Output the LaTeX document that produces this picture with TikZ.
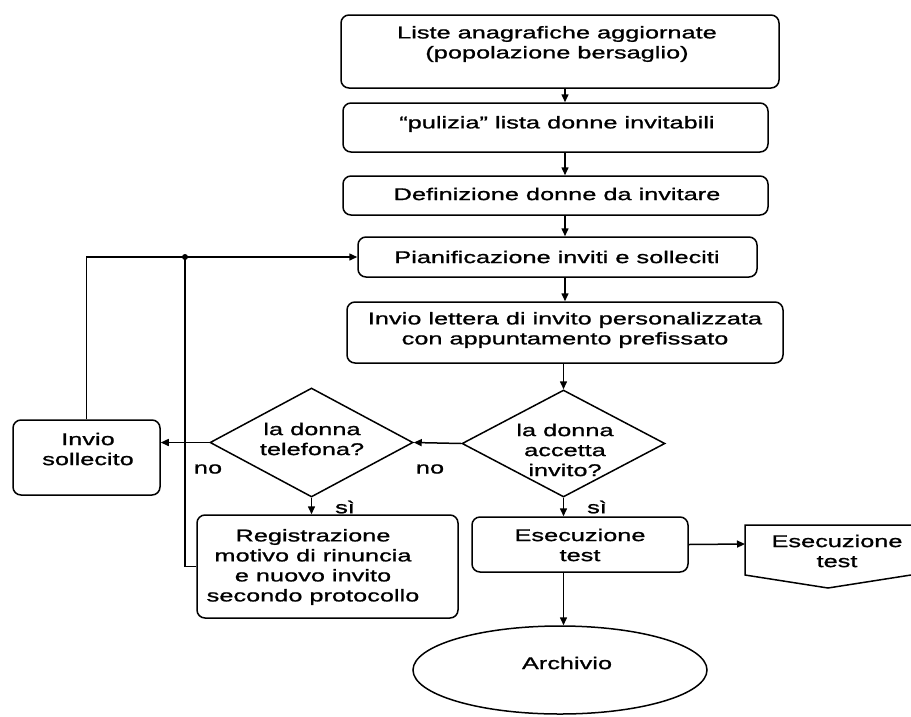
\documentclass[tikz,border=0pt]{standalone}
\usepackage{fontspec}
\setmainfont{Liberation Sans}[FakeStretch=1.49,FakeBold=1.1]
\usetikzlibrary{shapes.geometric,arrows.meta}
\begin{document}
\begin{tikzpicture}[x=1pt,y=-1pt, line width=1.5pt,
  box/.style={draw, rounded corners=8pt, inner sep=0pt},
  txt/.style={align=center, inner sep=0pt, font=\fontsize{17}{20}\selectfont},
  arr/.style={-{Triangle[length=8pt,width=7pt]}},
  dia/.style={draw, diamond, inner sep=0pt}]
\useasboundingbox (0,0) rectangle (911,716);
\clip (0,0) rectangle (911,716);

% boxes
\node[box, minimum width=438pt, minimum height=73pt] (b1) at (560,51.5) {};
\node[txt] (b1t) at (557,44) {Liste anagrafiche aggiornate\\(popolazione bersaglio)};
\node[box, minimum width=425pt, minimum height=49pt] (b2) at (555.5,127.5) {};
\node[txt] (b2t) at (557,124) {“pulizia” lista donne invitabili};
\node[box, minimum width=425pt, minimum height=39pt] (b3) at (555.5,195.5) {};
\node[txt] (b3t) at (557,194) {Definizione donne da invitare};
\node[box, minimum width=399pt, minimum height=40pt] (b4) at (557.5,257) {};
\node[txt] (b4t) at (557,257) {Pianificazione inviti e solleciti};
\node[box, minimum width=436pt, minimum height=61pt] (b5) at (565,332.5) {};
\node[txt] (b5t) at (565,330) {Invio lettera di invito personalizzata\\con appuntamento prefissato};

% decisions
\node[dia, minimum width=203pt, minimum height=109pt] (dT) at (311.5,442.5) {};
\node[txt] (dTt) at (312,439) {la donna\\telefona?};
\node[dia, minimum width=203pt, minimum height=107pt] (dA) at (563.5,443.5) {};
\node[txt] (dAt) at (565,450) {la donna\\accetta\\invito?};

% lower boxes
\node[box, minimum width=147pt, minimum height=75pt] (sol) at (86.5,457.5) {};
\node[txt] (solt) at (88,449) {Invio\\sollecito};
\node[box, minimum width=261pt, minimum height=103pt] (reg) at (327.5,566.5) {};
\node[txt] (regt) at (313,567) {Registrazione\\motivo di rinuncia\\e nuovo invito\\secondo protocollo};
\node[box, minimum width=216pt, minimum height=55pt] (ese) at (580,544.5) {};
\node[txt] (eset) at (580,545) {Esecuzione\\test};

% archive
\node[draw, ellipse, minimum width=294pt, minimum height=88pt, inner sep=0pt] (arch) at (560,670) {};
\node[txt] (archt) at (567,663) {Archivio};

% off-page connector
\coordinate (opL) at (745,544);
\draw (911,525) -- (745,525) -- (745,575) -- (828,588) -- (911,575);
\node[txt] (opt) at (837,551) {Esecuzione\\test};

% labels
\node[txt] (no1) at (208,469) {no};
\node[txt] (no2) at (430,469) {no};
\node[txt] (si1) at (345,507) {sì};
\node[txt] (si2) at (597,507) {sì};

% connectors
\coordinate (ax) at (565,0);
\draw[arr] (b1.south -| ax) -- (b2.north -| ax);
\draw[arr] (b2.south -| ax) -- (b3.north -| ax);
\draw[arr] (b3.south -| ax) -- (b4.north -| ax);
\draw[arr] (b4.south -| ax) -- (b5.north -| ax);
\draw[arr] (b5.south -| dA.north) -- (dA.north);
\draw[arr] (dA.west) -- (dT.east);
\draw[arr] (dT.west) -- (dT.west -| sol.east);
\draw[arr] (dT.south) -- (dT.south |- reg.north);
\draw[arr] (dA.south) -- (dA.south |- ese.north);
\draw[arr] (ese.east) -- (opL);
\draw[arr] (ese.south -| dA.south) -- (dA.south |- arch.north);
\coordinate (j) at (185,257);
\draw[arr] (sol.north) |- (b4.west);
\draw (reg.west) -| (j);
\fill (j) circle (3pt);
\end{tikzpicture}
\end{document}
